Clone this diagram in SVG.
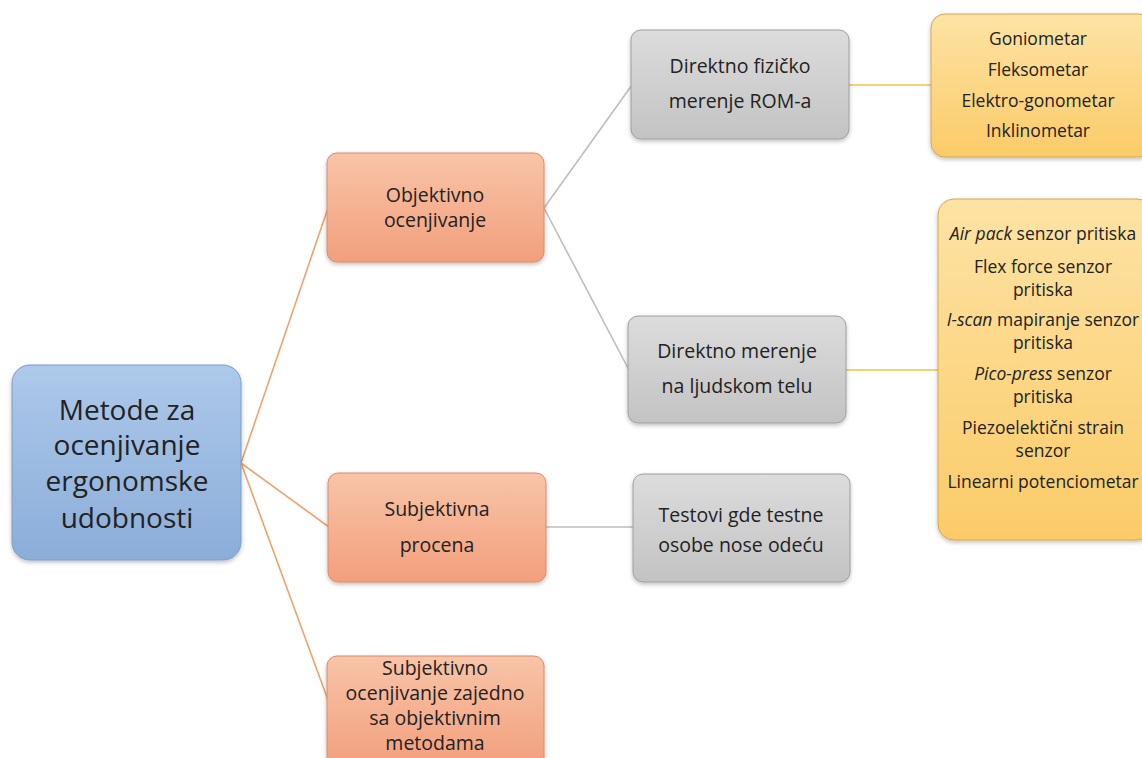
<svg xmlns="http://www.w3.org/2000/svg" width="1142" height="758" viewBox="0 0 1142 758">
<defs>
<linearGradient id="gBlue" x1="0" y1="0" x2="0" y2="1"><stop offset="0" stop-color="#adc9ea"/><stop offset="1" stop-color="#8badd9"/></linearGradient>
<linearGradient id="gOrange" x1="0" y1="0" x2="0" y2="1"><stop offset="0" stop-color="#f8c4a8"/><stop offset="1" stop-color="#f29f7c"/></linearGradient>
<linearGradient id="gGray" x1="0" y1="0" x2="0" y2="1"><stop offset="0" stop-color="#dcdcdc"/><stop offset="1" stop-color="#c3c3c3"/></linearGradient>
<linearGradient id="gYellow" x1="0" y1="0" x2="0" y2="1"><stop offset="0" stop-color="#fde3a4"/><stop offset="1" stop-color="#fbcb68"/></linearGradient>
<filter id="sh" x="-10%" y="-10%" width="120%" height="125%"><feDropShadow dx="0" dy="2" stdDeviation="2" flood-color="#000" flood-opacity="0.25"/></filter>
</defs>
<style>
text{font-family:"Open Sans",Lato,"Liberation Sans",sans-serif;fill:#222;text-anchor:middle}
.root{font-size:28px}
.n{font-size:19.5px}
.y{font-size:17.5px}
.blue{fill:url(#gBlue);stroke:#7d9cc6;stroke-width:1}
.or{fill:url(#gOrange);stroke:#d98b6b;stroke-width:1}
.gr{fill:url(#gGray);stroke:#9e9e9e;stroke-width:1}
.ye{fill:url(#gYellow);stroke:#d6a650;stroke-width:1}
.cO{stroke:#f2a06a;stroke-width:1.6;fill:none}
.cG{stroke:#bdbdbd;stroke-width:1.6;fill:none}
.cY{stroke:#f5c242;stroke-width:1.6;fill:none}
</style>
<rect width="1142" height="758" fill="#fff"/>
<g id="connectors">
<line class="cO" x1="241" y1="463" x2="328" y2="208"/>
<line class="cO" x1="241" y1="463" x2="329" y2="527"/>
<line class="cO" x1="241" y1="463" x2="328" y2="700"/>
<line class="cG" x1="544" y1="208" x2="632" y2="85"/>
<line class="cG" x1="544" y1="208" x2="629" y2="370"/>
<line class="cG" x1="546" y1="527" x2="634" y2="527"/>
<line class="cY" x1="849" y1="85" x2="932" y2="85"/>
<line class="cY" x1="846" y1="370" x2="939" y2="370"/>
</g>
<g id="root">
<rect class="blue" x="12" y="365" width="229" height="195" rx="18" filter="url(#sh)"/>
<text class="root" x="127" y="420">Metode za</text>
<text class="root" x="127" y="455">ocenjivanje</text>
<text class="root" x="127" y="491">ergonomske</text>
<text class="root" x="127" y="528">udobnosti</text>
</g>
<g id="objektivno">
<rect class="or" x="327" y="153" width="217" height="109" rx="10" filter="url(#sh)"/>
<text class="n" x="435" y="202">Objektivno</text>
<text class="n" x="435" y="227">ocenjivanje</text>
</g>
<g id="subjektivna">
<rect class="or" x="328" y="473" width="218" height="109" rx="10" filter="url(#sh)"/>
<text class="n" x="437" y="516">Subjektivna</text>
<text class="n" x="437" y="552">procena</text>
</g>
<g id="kombinovano">
<rect class="or" x="327" y="656" width="217" height="112" rx="10" filter="url(#sh)"/>
<text class="n" x="435" y="675">Subjektivno</text>
<text class="n" x="435" y="700">ocenjivanje zajedno</text>
<text class="n" x="435" y="725">sa objektivnim</text>
<text class="n" x="435" y="750">metodama</text>
</g>
<g id="rom">
<rect class="gr" x="631" y="30" width="218" height="109" rx="10" filter="url(#sh)"/>
<text class="n" x="740" y="73">Direktno fizičko</text>
<text class="n" x="740" y="108">merenje ROM-a</text>
</g>
<g id="telo">
<rect class="gr" x="628" y="316" width="218" height="107" rx="10" filter="url(#sh)"/>
<text class="n" x="737" y="358">Direktno merenje</text>
<text class="n" x="737" y="393">na ljudskom telu</text>
</g>
<g id="testovi">
<rect class="gr" x="633" y="474" width="217" height="108" rx="10" filter="url(#sh)"/>
<text class="n" x="741" y="522">Testovi gde testne</text>
<text class="n" x="741" y="552">osobe nose odeću</text>
</g>
<g id="instrumenti">
<rect class="ye" x="931" y="14" width="222" height="143" rx="14" filter="url(#sh)"/>
<text class="y" x="1038" y="45">Goniometar</text>
<text class="y" x="1038" y="76">Fleksometar</text>
<text class="y" x="1038" y="107">Elektro-gonometar</text>
<text class="y" x="1038" y="137">Inklinometar</text>
</g>
<g id="senzori">
<rect class="ye" x="938" y="199" width="215" height="341" rx="16" filter="url(#sh)"/>
<text class="y" x="1043" y="240"><tspan font-style="italic">Air pack</tspan> senzor pritiska</text>
<text class="y" x="1043" y="273">Flex force senzor</text>
<text class="y" x="1043" y="296">pritiska</text>
<text class="y" x="1043" y="326"><tspan font-style="italic">I-scan</tspan> mapiranje senzor</text>
<text class="y" x="1043" y="349">pritiska</text>
<text class="y" x="1043" y="380"><tspan font-style="italic">Pico-press</tspan> senzor</text>
<text class="y" x="1043" y="403">pritiska</text>
<text class="y" x="1043" y="434">Piezoelektični strain</text>
<text class="y" x="1043" y="457">senzor</text>
<text class="y" x="1043" y="488">Linearni potenciometar</text>
</g>
</svg>
